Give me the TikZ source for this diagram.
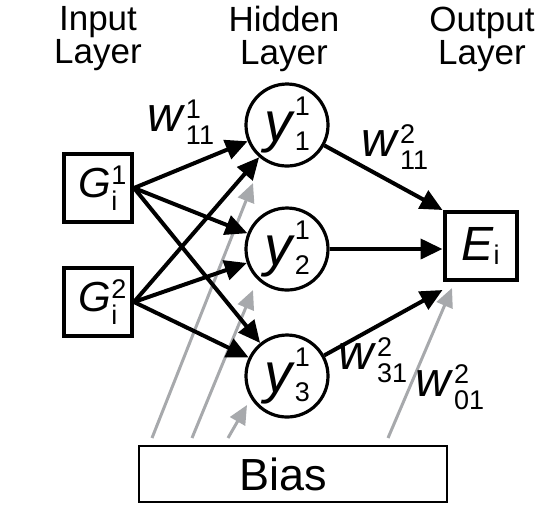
\documentclass[tikz,border=0pt]{standalone}
\usepackage{fontspec}
\setmainfont{Liberation Sans}
\usetikzlibrary{arrows.meta,calc}

\definecolor{biasgray}{RGB}{167,169,172}

% letter with stacked super- and subscript
\newcommand{\scrfs}{\fontsize{13.5}{13.5}\selectfont}
\newcommand{\stsym}[5]{\textit{#1}\makebox[0pt][l]{\raisebox{#4}{\scrfs #2}}\raisebox{#5}{\scrfs #3}}

\begin{document}
\begin{tikzpicture}[x=0.5pt, y=-0.5pt,
    every node/.style={inner sep=0pt},
    layerlabel/.style={align=center, font=\fontsize{17.5}{16.5}\selectfont},
    unitbox/.style={draw, line width=2pt, minimum width=34pt, minimum height=34pt},
    neuron/.style={draw, circle, line width=1.6pt, minimum size=41pt, font=\fontsize{28}{28}\selectfont},
    biasbox/.style={draw, line width=1.4pt, minimum width=154pt, minimum height=28pt, font=\fontsize{22.5}{22.5}\selectfont},
    link/.style={line width=2pt, -{Triangle[length=11pt,width=10pt]}},
    biaslink/.style={biasgray, line width=1.5pt, -{Triangle[length=9.5pt,width=8.5pt]}},
    weight/.style={font=\fontsize{24.5}{24.5}\selectfont}]

  \useasboundingbox (0,0) rectangle (550,511);

  % Layer titles
  \node[layerlabel] (tin) at (98,39) {Input\\Layer};
  \node[layerlabel] (thid) at (284,39) {Hidden\\Layer};
  \node[layerlabel] (tout) at (482,39) {Output\\Layer};

  % Input layer
  \node[unitbox, font=\fontsize{21}{21}\selectfont] (G1) at (98,188) {\stsym{G}{1}{i}{0.32em}{-0.3em}};
  \node[unitbox, font=\fontsize{21}{21}\selectfont] (G2) at (98,302) {\stsym{G}{2}{i}{0.32em}{-0.3em}};

  % Hidden layer
  \node[neuron] (y1) at (287,125) {\stsym{y}{1}{1}{0.45em}{-0.16em}};
  \node[neuron] (y2) at (287,249) {\stsym{y}{1}{2}{0.45em}{-0.16em}};
  \node[neuron] (y3) at (287,376) {\stsym{y}{1}{3}{0.45em}{-0.16em}};

  % Output layer
  \node[unitbox, minimum width=36pt, font=\fontsize{24}{24}\selectfont] (E) at (480.5,246) {\stsym{E}{}{i}{0pt}{-0.09em}};

  % Bias
  \node[biasbox] (bias) at (293,474) {Bias\hspace*{10pt}};

  % Bias connections
  \coordinate (b1) at (152,438);
  \coordinate (b2) at (192,438);
  \coordinate (b3) at (228,438);
  \coordinate (b4) at (388,438);
  \coordinate (t1) at (253,183);
  \coordinate (t2) at (253,290);
  \coordinate (t3) at (247,405);
  \coordinate (t4) at (452,288);
  \foreach \k in {1,...,4}
    \draw[biaslink] (b\k) -- (t\k);

  % Input -> hidden
  \foreach \i in {1,2}
    \foreach \j in {1,2,3}
      \draw[link] (G\i.east) -- (y\j);

  % Hidden -> output
  \draw[link] (y1) -- (E.north west);
  \draw[link] (y2) -- (y2 -| E.west);
  \draw[link] (y3) -- ($(E.south west)+(0,8)$);

  % Weights
  \node[weight] (w111) at (181,122) {\stsym{w}{1}{11}{0.28em}{-0.26em}};
  \node[weight] (w211) at (395,147) {\stsym{w}{2}{11}{0.28em}{-0.26em}};
  \node[weight] (w231) at (373,360) {\stsym{w}{2}{31}{0.28em}{-0.26em}};
  \node[weight] (w201) at (450,387) {\stsym{w}{2}{01}{0.28em}{-0.26em}};

\end{tikzpicture}
\end{document}
